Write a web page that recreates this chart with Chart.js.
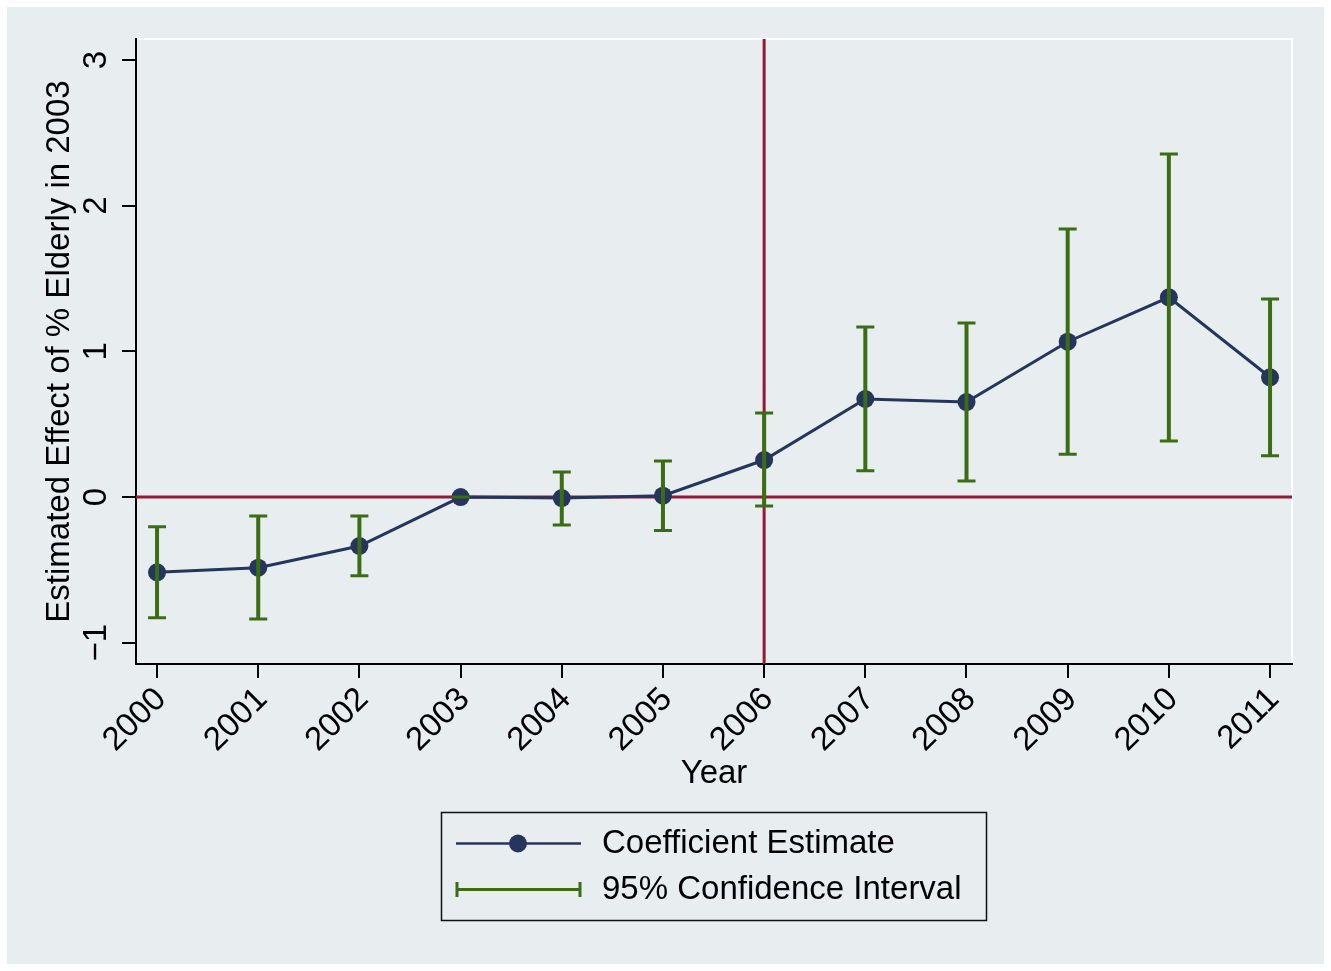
<!DOCTYPE html>
<html>
<head>
<meta charset="utf-8">
<script src="https://cdn.jsdelivr.net/npm/chart.js@4/dist/chart.umd.min.js"></script>
<style>
  html, body { margin: 0; padding: 0; background: #fff; }
  canvas { display: block; }
</style>
</head>
<body>
<canvas id="chart" width="1331" height="971"></canvas>
<script>
// event-study estimates
const YEARS   = [2000, 2001, 2002, 2003, 2004, 2005, 2006, 2007, 2008, 2009, 2010, 2011]
const COEF    = [-0.517, -0.485, -0.336, 0, -0.007, 0.009, 0.254, 0.673, 0.652, 1.066, 1.371, 0.822]
const CI_LOW  = [-0.828, -0.837, -0.540, 0, -0.192, -0.229, -0.062, 0.181, 0.110, 0.293, 0.384, 0.283]
const CI_HIGH = [-0.204, -0.130, -0.130, 0, 0.172, 0.247, 0.577, 1.167, 1.194, 1.840, 2.354, 1.359]

const Y_TICKS       = [-1, 0, 1, 2, 3]
const Y_TICK_LABELS = ['\u22121', '0', '1', '2', '3']
const EVENT_YEAR    = 2006

const FONT      = '"Liberation Sans", Arial, Helvetica, sans-serif'
const NAVY      = '#25355b'
const GREEN     = '#3b6d14'
const CRANBERRY = '#931a36'
const BG        = '#e8edf0'

const axisFont = { family: FONT, size: 33 }

// stata-ish graph region + white plot-region outline
const background = {
  id: 'background',
  beforeDraw(chart) {
    const { ctx, chartArea: a } = chart
    ctx.save()
    ctx.fillStyle = '#fff'
    ctx.fillRect(0, 0, chart.width, chart.height)
    ctx.fillStyle = BG
    ctx.fillRect(7, 7, chart.width - 14, chart.height - 14)
    ctx.strokeStyle = '#fff'
    ctx.lineWidth = 2
    ctx.strokeRect(a.left, a.top, a.right - a.left, a.bottom - a.top)
    ctx.restore()
  },
}

// y = 0 and the 2006 vertical line, under the series
const refLines = {
  id: 'refLines',
  beforeDatasetsDraw(chart) {
    const { ctx, chartArea: a, scales: { x, y } } = chart
    const y0 = y.getPixelForValue(0)
    const xe = x.getPixelForValue(EVENT_YEAR)
    ctx.save()
    ctx.strokeStyle = CRANBERRY
    ctx.lineWidth = 3
    ctx.beginPath()
    ctx.moveTo(a.left, y0)
    ctx.lineTo(a.right, y0)
    ctx.moveTo(xe, a.top)
    ctx.lineTo(xe, a.bottom)
    ctx.stroke()
    ctx.restore()
  },
}

function drawCap(ctx, px, py, half) {
  ctx.moveTo(px - half, py)
  ctx.lineTo(px + half, py)
}

// 95% CI bars drawn on top of the markers
const errorBars = {
  id: 'errorBars',
  afterDatasetsDraw(chart) {
    const { ctx, scales: { x, y } } = chart
    ctx.save()
    ctx.strokeStyle = GREEN
    YEARS.forEach((yr, i) => {
      const px = x.getPixelForValue(yr)
      const lo = y.getPixelForValue(CI_LOW[i])
      const hi = y.getPixelForValue(CI_HIGH[i])
      ctx.lineWidth = 4
      ctx.beginPath()
      ctx.moveTo(px, lo)
      ctx.lineTo(px, hi)
      ctx.stroke()
      ctx.lineWidth = 3
      ctx.beginPath()
      drawCap(ctx, px, lo, 9)
      drawCap(ctx, px, hi, 9)
      ctx.stroke()
    })
    ctx.restore()
  },
}

// vertical y tick labels + the boxed legend
const extras = {
  id: 'extras',
  afterDraw(chart) {
    const { ctx, scales: { y } } = chart
    ctx.save()
    ctx.font = `33px ${FONT}`
    ctx.fillStyle = '#000'
    ctx.textAlign = 'center'
    ctx.textBaseline = 'alphabetic'
    Y_TICKS.forEach((v, i) => {
      ctx.save()
      ctx.translate(y.right - 30.5, y.getPixelForValue(v))
      ctx.rotate(-Math.PI / 2)
      ctx.fillText(Y_TICK_LABELS[i], 0, 0)
      ctx.restore()
    })

    // legend
    const box = { x: 441, y: 812, w: 545, h: 108 }
    ctx.strokeStyle = '#111'
    ctx.lineWidth = 1.5
    ctx.strokeRect(box.x + 0.5, box.y + 0.5, box.w, box.h)

    const r1 = 843.5, r2 = 889.5
    ctx.strokeStyle = NAVY
    ctx.lineWidth = 2.5
    ctx.beginPath()
    ctx.moveTo(456, r1)
    ctx.lineTo(581, r1)
    ctx.stroke()
    ctx.fillStyle = NAVY
    ctx.beginPath()
    ctx.arc(518, r1, 9, 0, Math.PI * 2)
    ctx.fill()

    ctx.strokeStyle = GREEN
    ctx.lineWidth = 3
    ctx.beginPath()
    ctx.moveTo(456, r2)
    ctx.lineTo(581, r2)
    ctx.moveTo(457, r2 - 7.5)
    ctx.lineTo(457, r2 + 7.5)
    ctx.moveTo(580, r2 - 7.5)
    ctx.lineTo(580, r2 + 7.5)
    ctx.stroke()

    ctx.fillStyle = '#000'
    ctx.textAlign = 'left'
    ctx.textBaseline = 'middle'
    ctx.fillText('Coefficient Estimate', 602, r1)
    ctx.fillText('95% Confidence Interval', 602, r2)
    ctx.restore()
  },
}

const axisLine = { display: true, color: '#000', width: 2 }
const tickMarks = { drawOnChartArea: false, drawTicks: true, tickLength: 14, color: '#000', lineWidth: 2 }

new Chart(document.getElementById('chart'), {
  type: 'line',
  data: {
    datasets: [{
      label: 'Coefficient Estimate',
      data: YEARS.map((yr, i) => ({ x: yr, y: COEF[i] })),
      borderColor: NAVY,
      borderWidth: 3,
      backgroundColor: NAVY,
      pointBackgroundColor: NAVY,
      pointBorderWidth: 0,
      pointRadius: 9,
      tension: 0,
      clip: false,
    }],
  },
  options: {
    responsive: false,
    animation: false,
    devicePixelRatio: 1,
    events: [],
    layout: { padding: { left: 0, top: 39, right: 39, bottom: 171 } },
    plugins: {
      legend: { display: false },
      tooltip: { enabled: false },
    },
    scales: {
      x: {
        type: 'linear',
        min: 1999.792,
        max: 2011.217,
        afterBuildTicks: s => { s.ticks = YEARS.map(v => ({ value: v })) },
        afterFit: s => { s.height = 136 },
        ticks: {
          autoSkip: false,
          minRotation: 45,
          maxRotation: 45,
          padding: 2,
          labelOffset: 4,
          color: '#000',
          font: axisFont,
          callback: v => String(v),
        },
        grid: tickMarks,
        border: axisLine,
        title: {
          display: true,
          text: 'Year',
          color: '#000',
          font: axisFont,
          padding: { top: 0, bottom: 6 },
        },
      },
      y: {
        type: 'linear',
        min: -1.146,
        max: 3.144,
        afterBuildTicks: s => { s.ticks = Y_TICKS.map(v => ({ value: v })) },
        afterFit: s => { s.width = 136 },
        ticks: { display: false },
        grid: tickMarks,
        border: axisLine,
        title: {
          display: true,
          text: 'Estimated Effect of % Elderly in 2003',
          color: '#000',
          font: axisFont,
          padding: { top: 40.5, bottom: 0 },
        },
      },
    },
  },
  plugins: [background, refLines, errorBars, extras],
})
</script>
</body>
</html>
